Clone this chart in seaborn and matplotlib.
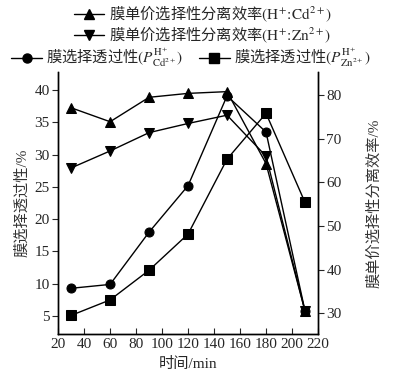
import matplotlib
matplotlib.use("Agg")
import matplotlib.pyplot as plt
import seaborn as sns
import pandas as pd
from matplotlib.lines import Line2D

# dados
tempo = [30, 60, 90, 120, 150, 180, 210]
eficiencia_cd = [77.1, 73.9, 79.5, 80.4, 80.8, 64.3, 30.5]  # eixo direito
eficiencia_zn = [63.3, 67.2, 71.4, 73.5, 75.4, 66.0, 30.5]  # eixo direito
permeab_cd = [9.3, 9.9, 18.0, 25.2, 39.1, 33.5, 5.8]       # eixo esquerdo
permeab_zn = [5.1, 7.5, 12.1, 17.7, 29.3, 36.4, 22.6]      # eixo esquerdo

rotulo_cd = r"膜单价选择性分离效率$(\mathrm{H}^{+}\!:\!\mathrm{Cd}^{2+})$"
rotulo_zn = r"膜单价选择性分离效率$(\mathrm{H}^{+}\!:\!\mathrm{Zn}^{2+})$"
rotulo_pcd = r"膜选择透过性$(P^{\mathrm{H}^{+}}_{\mathrm{Cd}^{2+}})$"
rotulo_pzn = r"膜选择透过性$(P^{\mathrm{H}^{+}}_{\mathrm{Zn}^{2+}})$"

sns.set_style("ticks")
plt.rcParams['font.family'] = ['Liberation Serif', 'Noto Sans CJK SC']
plt.rcParams['mathtext.fontset'] = 'stix'
plt.rcParams['font.size'] = 11

df = pd.DataFrame({"tempo": tempo, "ecd": eficiencia_cd, "ezn": eficiencia_zn,
                   "pcd": permeab_cd, "pzn": permeab_zn})

fig = plt.figure(figsize=(3.98, 3.81), dpi=100)
ax = fig.add_axes([0.146, 0.123, 0.653, 0.688])
ax2 = ax.twinx()

estilo = dict(color="black", linewidth=1, markeredgecolor="black", markerfacecolor="black")
sns.lineplot(data=df, x="tempo", y="pcd", marker="o", markersize=6.5, ax=ax, **estilo)
sns.lineplot(data=df, x="tempo", y="pzn", marker="s", markersize=6.5, ax=ax, **estilo)
sns.lineplot(data=df, x="tempo", y="ecd", marker="^", markersize=6.5, ax=ax2, **estilo)
sns.lineplot(data=df, x="tempo", y="ezn", marker="v", markersize=6.5, ax=ax2, **estilo)

ax.set_xlim(20, 220)
ax.set_xticks(range(20, 221, 20))
ax.set_ylim(2.2, 42.8)
ax.set_yticks(range(5, 41, 5))
ax2.set_ylim(25.2, 85.3)
ax2.set_yticks(range(30, 81, 10))

ax.set_xlabel("时间/min", fontsize=11)
ax.set_ylabel("膜选择透过性/%", fontsize=11, color="#333333")
ax2.set_ylabel("膜单价选择性分离效率/%", fontsize=11, color="#333333", labelpad=18)

for a in (ax, ax2):
    a.spines['top'].set_visible(False)
    for s in a.spines.values():
        s.set_linewidth(1)
        s.set_color("black")
ax.tick_params(axis='x', direction='in', length=4, labelsize=11, pad=3)
ax.tick_params(axis='y', direction='out', length=4, labelsize=11, pad=2)
ax2.tick_params(axis='y', direction='out', length=4, labelsize=11, pad=2)

def handle(m):
    return Line2D([], [], color="black", linewidth=1, marker=m, markersize=6.5)

fonte_leg = {"family": "Noto Sans CJK SC", "size": 11}
fig.legend([handle("^"), handle("v")], [rotulo_cd, rotulo_zn],
           loc="upper center", bbox_to_anchor=(0.51, 1.01), ncol=1,
           frameon=False, prop=fonte_leg, handlelength=2, handletextpad=0.3,
           labelspacing=0.05, borderaxespad=0.1)
fig.legend([handle("o"), handle("s")], [rotulo_pcd, rotulo_pzn],
           loc="upper center", bbox_to_anchor=(0.48, 0.898), ncol=2,
           frameon=False, prop=fonte_leg, handlelength=2, handletextpad=0.3,
           columnspacing=1.0, borderaxespad=0.1)

fig.savefig("out.png", dpi=100)
